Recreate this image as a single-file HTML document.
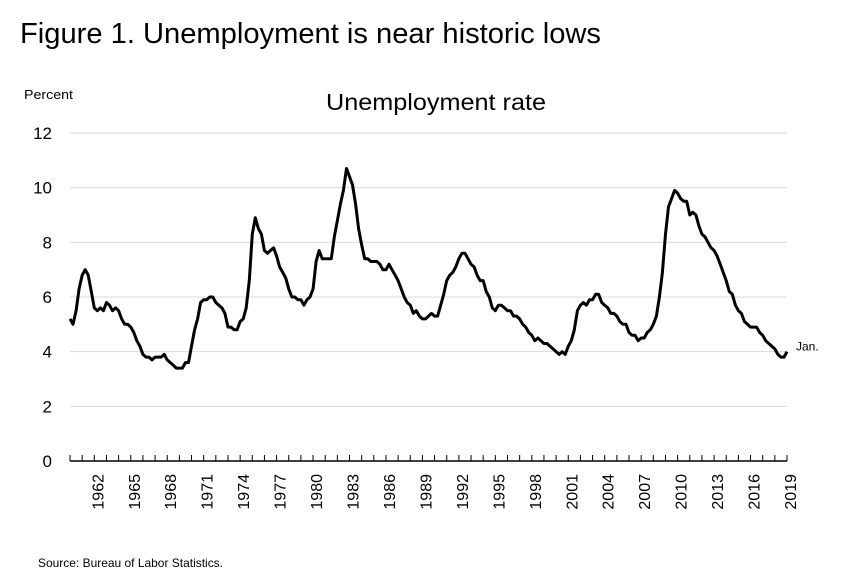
<!DOCTYPE html>
<html><head><meta charset="utf-8"><style>
body{margin:0;background:#fff;width:842px;height:583px;overflow:hidden;font-family:"Liberation Sans",sans-serif}
</style></head><body>
<svg width="842" height="583" id="chart" font-family="Liberation Sans, sans-serif">
<text x="20" y="43" font-size="29" fill="#000" textLength="581" lengthAdjust="spacingAndGlyphs">Figure 1. Unemployment is near historic lows</text>
<text x="24" y="99" font-size="13" textLength="49" lengthAdjust="spacingAndGlyphs">Percent</text>
<text x="436" y="110" font-size="23" text-anchor="middle" textLength="220" lengthAdjust="spacingAndGlyphs">Unemployment rate</text>
<text x="38" y="567" font-size="12" textLength="185" lengthAdjust="spacingAndGlyphs">Source: Bureau of Labor Statistics.</text>
<g id="grid"></g><g id="axes"></g><g id="series"></g>
</svg>
<script>
const yTicks=[0,2,4,6,8,10,12];
const yearLabels=[1962,1965,1968,1971,1974,1977,1980,1983,1986,1989,1992,1995,1998,2001,2004,2007,2010,2013,2016,2019];
const startYear=1960;
const rates=[
5.2,5.0,5.5,6.3, 6.8,7.0,6.8,6.2, 5.6,5.5,5.6,5.5, 5.8,5.7,5.5,5.6, 5.5,5.2,5.0,5.0,
4.9,4.7,4.4,4.2, 3.9,3.8,3.8,3.7, 3.8,3.8,3.8,3.9, 3.7,3.6,3.5,3.4, 3.4,3.4,3.6,3.6,
4.2,4.8,5.2,5.8, 5.9,5.9,6.0,6.0, 5.8,5.7,5.6,5.4, 4.9,4.9,4.8,4.8, 5.1,5.2,5.6,6.6,
8.3,8.9,8.5,8.3, 7.7,7.6,7.7,7.8, 7.5,7.1,6.9,6.7, 6.3,6.0,6.0,5.9, 5.9,5.7,5.9,6.0,
6.3,7.3,7.7,7.4, 7.4,7.4,7.4,8.2, 8.8,9.4,9.9,10.7, 10.4,10.1,9.4,8.5, 7.9,7.4,7.4,7.3,
7.3,7.3,7.2,7.0, 7.0,7.2,7.0,6.8, 6.6,6.3,6.0,5.8, 5.7,5.4,5.5,5.3, 5.2,5.2,5.3,5.4,
5.3,5.3,5.7,6.1, 6.6,6.8,6.9,7.1, 7.4,7.6,7.6,7.4, 7.2,7.1,6.8,6.6, 6.6,6.2,6.0,5.6,
5.5,5.7,5.7,5.6, 5.5,5.5,5.3,5.3, 5.2,5.0,4.9,4.7, 4.6,4.4,4.5,4.4, 4.3,4.3,4.2,4.1,
4.0,3.9,4.0,3.9, 4.2,4.4,4.8,5.5, 5.7,5.8,5.7,5.9, 5.9,6.1,6.1,5.8, 5.7,5.6,5.4,5.4,
5.3,5.1,5.0,5.0, 4.7,4.6,4.6,4.4, 4.5,4.5,4.7,4.8, 5.0,5.3,6.0,6.9, 8.3,9.3,9.6,9.9,
9.8,9.6,9.5,9.5, 9.0,9.1,9.0,8.6, 8.3,8.2,8.0,7.8, 7.7,7.5,7.2,6.9, 6.6,6.2,6.1,5.7,
5.5,5.4,5.1,5.0, 4.9,4.9,4.9,4.7, 4.6,4.4,4.3,4.2, 4.1,3.9,3.8,3.8, 4.0];
const X0=70,X1=787,Y0=461,Y1=133,SPAN=59;
const ns="http://www.w3.org/2000/svg";
const xOf=t=>X0+t*(X1-X0)/SPAN;
const yOf=v=>Y0-v*(Y0-Y1)/12;
function mk(tag,attrs,parent){const e=document.createElementNS(ns,tag);for(const k in attrs)e.setAttribute(k,attrs[k]);document.getElementById(parent).appendChild(e);return e;}
yTicks.forEach(v=>{
  if(v>0){const g=mk('line',{x1:X0,x2:X1,y1:yOf(v),y2:yOf(v),stroke:'#d9d9d9','stroke-width':1},'grid');
  
  }
  const t=mk('text',{x:52,y:yOf(v)+6,'font-size':17,'text-anchor':'end'},'axes');t.textContent=v;
  
  
});
const ax=mk('line',{x1:X0,x2:X1,y1:Y0,y2:Y0,stroke:'#000','stroke-width':1.5},'axes');


for(let k=0;k<=SPAN;k++){const tk=mk('line',{x1:xOf(k),x2:xOf(k),y1:Y0,y2:Y0-6,stroke:'#000','stroke-width':1},'axes');

}
yearLabels.forEach(y=>{const x=xOf(y-startYear)+3;const t=mk('text',{x:0,y:0,'font-size':16,'text-anchor':'end',transform:`translate(${x+6},${Y0+13}) rotate(-90)`},'axes');t.textContent=y;

});
const pts=rates.map((v,i)=>`${xOf(i*0.25).toFixed(1)},${yOf(v).toFixed(1)}`).join(' ');
const pl=mk('polyline',{points:pts,fill:'none',stroke:'#000','stroke-width':3,'stroke-linejoin':'round'},'series');


const last=rates[rates.length-1];
const jl=mk('text',{x:xOf((rates.length-1)*0.25)+9,y:yOf(last)-1,'font-size':12},'series');jl.textContent='Jan.';


</script>
</body></html>
